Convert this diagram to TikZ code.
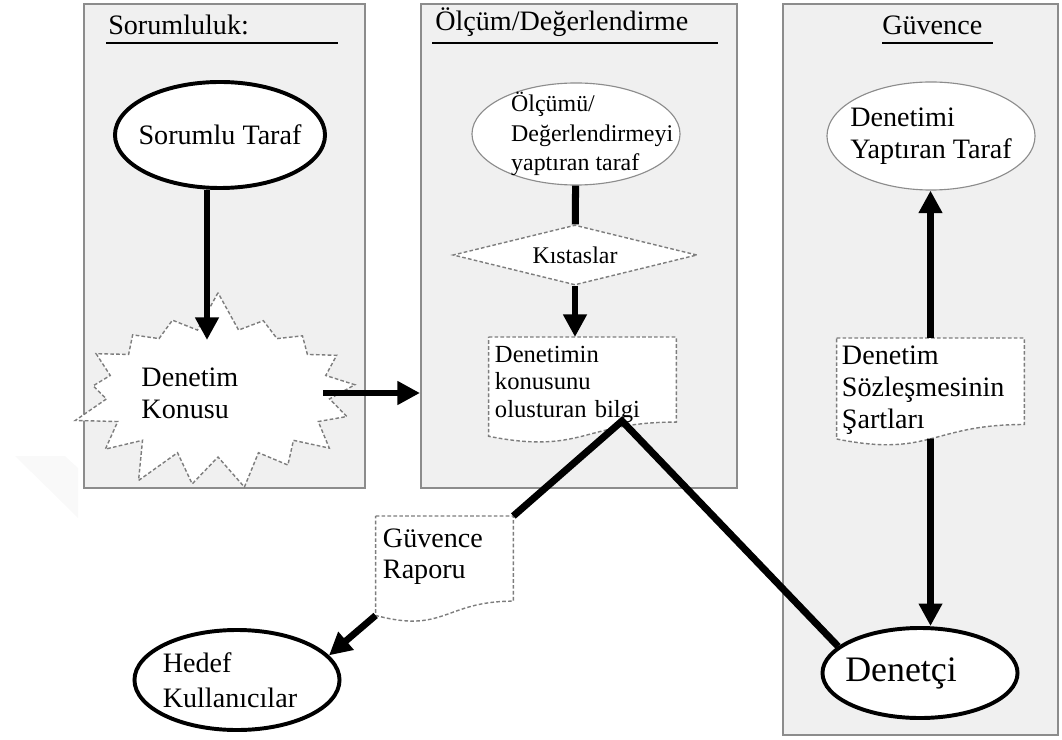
\documentclass[tikz,border=0pt]{standalone}
\usepackage{fontspec}
\setmainfont{Liberation Serif}
\usetikzlibrary{shapes.geometric,shapes.symbols,arrows.meta,calc}
\pgfdeclarelayer{back}
\pgfsetlayers{back,main}
\definecolor{panelgray}{RGB}{240,240,240}
\definecolor{framegray}{RGB}{140,140,140}
\definecolor{dashgray}{RGB}{125,125,125}
\newcommand{\txtbig}{\fontsize{20}{23}\selectfont}
\newcommand{\txtsmall}{\fontsize{17}{21}\selectfont}
\newcommand{\txthuge}{\fontsize{25.5}{30}\selectfont}
% dashed "document" outline behind a text node
\newcommand{\docedge}[1]{%
  \begin{pgfonlayer}{back}
    \draw[dashedge] (#1.north west) -- (#1.north east)
      -- ($(#1.north east)!0.8!(#1.south east)$)
      .. controls ($(#1.north)!0.8!(#1.south)$) and ($(#1.north)!1.108!(#1.south)$)
      .. ($(#1.north west)!0.934!(#1.south west)$) -- cycle;
  \end{pgfonlayer}}

\begin{document}
\begin{tikzpicture}[x=0.025cm, y=-0.025cm,
    panel/.style={draw=framegray, fill=panelgray, line width=1.4pt, inner sep=0pt},
    heading/.style={anchor=base west, inner sep=0pt, font=\txtbig},
    headline/.style={line width=2pt},
    boldoval/.style={ellipse, draw, line width=2.8pt, fill=white, font=\txtbig, align=left, inner sep=-8pt},
    thinoval/.style={ellipse, draw=framegray, line width=0.8pt, fill=white, font=\txtbig, align=left, inner sep=-8pt},
    dashedge/.style={draw=dashgray, line width=1pt, dash pattern=on 2.6pt off 1.6pt, fill=white},
    docbox/.style={rectangle, anchor=north, align=left, font=\txtbig},
    flow/.style={line width=4.8pt, -{Triangle[length=16pt,width=16pt]}},
    link/.style={line width=5pt, line join=miter},
]
    \useasboundingbox (0,0) rectangle (1062,740);

    % watermark corner
    \fill[gray!5] (15,456) -- (65,456) -- (78,468) -- (78,518) -- cycle;

    % Three panels
    \begin{pgfonlayer}{back}
    \node[panel, minimum width=7.025cm, minimum height=12.1cm] (sorumpanel) at (224.5,246) {};
    \node[panel, minimum width=7.9cm, minimum height=12.1cm] (olcumpanel) at (579,246) {};
    \node[panel, minimum width=6.875cm, minimum height=18.275cm] (guvencepanel) at (920.5,369.5) {};
    \end{pgfonlayer}

    % Panel headings
    \node[heading] (sorumhead) at (108,35) {Sorumluluk:};
    \draw[headline] (106,43) -- (338,43);
    \node[heading] (olcumhead) at (435,31) {Ölçüm/Değerlendirme};
    \draw[headline] (432,43) -- (718,43);
    \node[heading] (guvencehead) at (882,35) {Güvence};
    \draw[headline] (882,43) -- (993,43);

    % Responsibility
    \node[boldoval, minimum width=5.25cm, minimum height=2.65cm] (sorumlu) at (220,135) {Sorumlu Taraf};
    \node[starburst, starburst points=17, starburst point height=1cm, random starburst=7, dashedge,
        minimum width=7.6cm, minimum height=5.2cm, inner sep=-10pt,
        font=\txtbig, align=left] (konu) at (218,393) {\hspace*{-40pt}Denetim\\\hspace*{-40pt}Konusu};
    \coordinate (konuin) at (207,340);
    \coordinate (konuout) at (323,393);

    % Measurement / evaluation
    \node[thinoval, font=\txtsmall, minimum width=5.2cm, minimum height=2.55cm] (olcen) at (576,134)
        {Ölçümü/\\Değerlendirmeyi\kern-23pt\\yaptıran taraf\kern-23pt};
    \node[diamond, aspect=4, dashedge, minimum width=6.1cm, minimum height=1.5cm, inner sep=0pt,
        font=\txtsmall] (kistas) at (575,255) {Kıstaslar};
    \node[docbox, font=\fontsize{17.5}{19.5}\selectfont, text width=4.375cm, inner xsep=4.3pt,
        inner ysep=5.7pt, text height=12pt, text depth=51.8pt] (bilgi) at (582.5,337)
        {Denetimin\\konusunu\\olusturan bilgi};
    \docedge{bilgi}
    \coordinate (bilgiapex) at (622,421);

    % Assurance
    \node[thinoval, minimum width=5.2cm, minimum height=2.7cm] (isteyen) at (931,136) {Denetimi\\Yaptıran Taraf};
    \node[docbox, text width=4.425cm, inner xsep=3.6pt, inner ysep=5pt, text height=13.5pt,
        text depth=53pt] (sartlar) at (930.5,338) {Denetim\\Sözleşmesinin\\Şartları};
    \docedge{sartlar}
    \node[boldoval, font=\txthuge, minimum width=4.875cm, minimum height=2.25cm] (denetci) at (920,673)
        {\hspace*{-27pt}Denetçi};

    % Report and users
    \node[docbox, text width=3.075cm, inner xsep=5pt, inner ysep=8.5pt, text height=13.5pt,
        text depth=44.8pt, font=\fontsize{20}{22}\selectfont] (rapor) at (444.5,516) {Güvence\\Raporu};
    \docedge{rapor}
    \node[boldoval, font=\fontsize{20}{25}\selectfont, minimum width=5.125cm, minimum height=2.5cm] (hedef) at (237,680)
        {\kern-10pt Hedef\\\kern-10pt Kullanıcılar};

    % Connectors
    \draw[flow] (sorumlu.south -| konuin) -- (konuin);
    \draw[flow] (konuout) -- (konuout -| olcumpanel.west);
    \draw[link] (olcen) -- (kistas);
    \draw[flow] (kistas.south) -- (kistas.south |- bilgi.north);
    \draw[flow] (sartlar.north) -- (sartlar.north |- isteyen.south);
    \draw[flow] ($(sartlar.north)!0.93!(sartlar.south)$) -- (sartlar.south |- denetci.north);
    \draw[link] (rapor.north east) -- (bilgiapex) -- (denetci.162);
    \draw[flow] ($(rapor.north west)!0.934!(rapor.south west)$) -- (hedef.15);
\end{tikzpicture}
\end{document}
